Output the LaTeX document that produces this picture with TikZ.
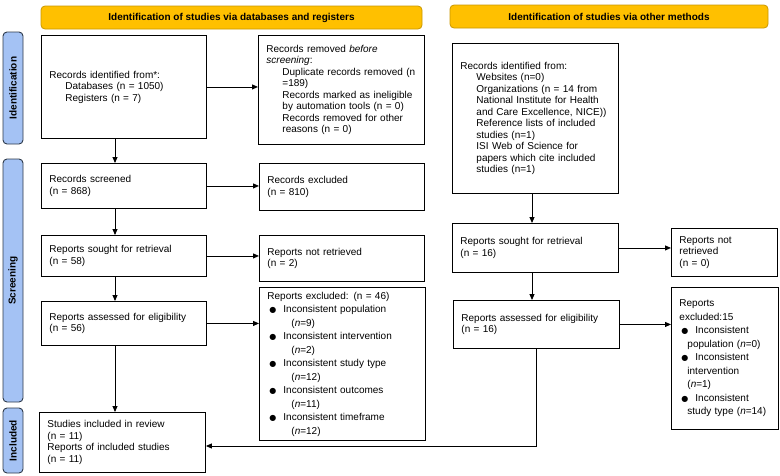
\documentclass[tikz,border=0pt]{standalone}
\usepackage{fontspec}
\setmainfont{Liberation Sans}
\newfontfamily\dejavu{DejaVu Sans}
\usetikzlibrary{arrows.meta,calc}
\definecolor{hdrfill}{HTML}{FFC000}
\definecolor{hdrdraw}{HTML}{C99700}
\definecolor{sidefill}{HTML}{A4C2F4}
\definecolor{sidedraw}{HTML}{2E3A4A}
\newcommand{\ind}{\hspace*{16pt}}
\newcommand{\blt}{\hspace*{2pt}\makebox[14pt][l]{\dejavu\fontsize{8}{8}\selectfont ●}}
\newcommand{\cnt}[1]{\hspace*{#1pt}}
\begin{document}
\begin{tikzpicture}[x=1pt,y=-1pt,
  box/.style={draw,line width=0.9pt,anchor=north west,align=left,inner xsep=8pt,inner ysep=2pt,font=\fontsize{10}{11.5}\selectfont},
  list/.style={box,font=\fontsize{10}{13.5}\selectfont},
  hdr/.style={draw=hdrdraw,fill=hdrfill,rounded corners=4pt,line width=0.8pt,font=\bfseries\fontsize{10}{12}\selectfont},
  sidebar/.style={draw=sidedraw,fill=sidefill,rounded corners=4pt,line width=0.9pt},
  sidelbl/.style={rotate=90,font=\bfseries\fontsize{10}{12}\selectfont},
  arr/.style={-{Triangle[length=6pt,width=5pt]},line width=0.9pt}]
  \useasboundingbox (0,0) rectangle (780,475);
  \node[hdr,minimum width=381pt,minimum height=23pt] (hdrL) at (231.5,17.5) {Identification of studies via databases and registers};
  \node[hdr,minimum width=318pt,minimum height=23pt] (hdrR) at (609,16.5) {Identification of studies via other methods};
  \draw[sidebar] (3,32) rectangle (23,144);
  \draw[sidebar] (3,159) rectangle (23,402);
  \draw[sidebar] (3,408) rectangle (23,473);
  \node[sidelbl] (lblId) at (13,88) {Identification};
  \node[sidelbl] (lblScr) at (13,280.5) {Screening};
  \node[sidelbl] (lblInc) at (13,440.5) {Included};
  \node[box,minimum width=165pt,minimum height=103pt,text width=149pt] (recId) at (41,35)
    {Records identified from*:\\\ind Databases (n = 1050)\\\ind Registers (n = 7)};
  \node[box,minimum width=166pt,minimum height=109pt,text width=150pt] (recRem) at (258,35)
    {Records removed \textit{before}\\\textit{screening}:\\\ind Duplicate records removed (n\\\ind =189)\\\ind Records marked as ineligible\\\ind by automation tools (n = 0)\\\ind Records removed for other\\\ind reasons (n = 0)};
  \node[box,minimum width=165pt,minimum height=45pt,text width=149pt] (recScr) at (41,163) {Records screened\\(n = 868)};
  \node[box,minimum width=165pt,minimum height=47pt,text width=149pt] (recExc) at (259,163) {Records excluded\\(n = 810)};
  \node[box,minimum width=165pt,minimum height=41pt,text width=149pt] (rptSgt) at (41,235) {Reports sought for retrieval\\(n = 58)};
  \node[box,minimum width=165pt,minimum height=46pt,text width=149pt] (rptNR) at (259,235) {Reports not retrieved\\(n = 2)};
  \node[box,minimum width=165pt,minimum height=44pt,text width=149pt] (rptAss) at (41,301) {Reports assessed for eligibility\\(n = 56)};
  \node[list,minimum width=166pt,minimum height=153pt,text width=150pt] (rptExc) at (259,287)
    {Reports excluded: (n = 46)\\
     \blt Inconsistent population\\\cnt{24}(\textit{n}=9)\\
     \blt Inconsistent intervention\\\cnt{24}(\textit{n}=2)\\
     \blt Inconsistent study type\\\cnt{24}(\textit{n}=12)\\
     \blt Inconsistent outcomes\\\cnt{24}(\textit{n}=11)\\
     \blt Inconsistent timeframe\\\cnt{24}(\textit{n}=12)};
  \node[box,minimum width=166pt,minimum height=60pt,text width=150pt] (stdInc) at (39,412)
    {Studies included in review\\(n = 11)\\Reports of included studies\\(n = 11)};
  \node[box,minimum width=166pt,minimum height=150pt,text width=150pt] (othId) at (452,43)
    {Records identified from:\\\ind Websites (n=0)\\\ind Organizations (n = 14 from\\\ind National Institute for Health\\\ind and Care Excellence, NICE))\\\ind Reference lists of included\\\ind studies (n=1)\\\ind ISI Web of Science for\\\ind papers which cite included\\\ind studies (n=1)\\[6pt]};
  \node[box,minimum width=166pt,minimum height=49pt,text width=150pt] (othSgt) at (452,223) {Reports sought for retrieval\\(n = 16)};
  \node[box,minimum width=106pt,minimum height=48pt,text width=90pt] (othNR) at (671,228) {Reports not\\retrieved\\(n = 0)};
  \node[box,minimum width=166pt,minimum height=48pt,text width=150pt] (othAss) at (453,300) {Reports assessed for eligibility\\(n = 16)};
  \node[list,minimum width=107pt,minimum height=142pt,text width=91pt] (othExc) at (671,287)
    {Reports\\excluded:15\\
     \blt Inconsistent\\\cnt{8}population (\textit{n}=0)\\
     \blt Inconsistent\\\cnt{8}intervention\\\cnt{8}(\textit{n}=1)\\
     \blt Inconsistent\\\cnt{8}study type (\textit{n}=14)};
  \coordinate (colL) at (115,0);
  \coordinate (colR) at (532,0);
  \coordinate (bend) at (536,446);
  \draw[arr] (recId) -- (recId -| recRem.west);
  \draw[arr] (recScr) -- (recScr -| recExc.west);
  \draw[arr] (rptSgt) -- (rptSgt -| rptNR.west);
  \draw[arr] (rptAss) -- (rptAss -| rptExc.west);
  \draw[arr] (recId.south -| colL) -- (recScr.north -| colL);
  \draw[arr] (recScr.south -| colL) -- (rptSgt.north -| colL);
  \draw[arr] (rptSgt.south -| colL) -- (rptAss.north -| colL);
  \draw[arr] (rptAss.south -| colL) -- (stdInc.north -| colL);
  \draw[arr] (othId.south -| colR) -- (othSgt.north -| colR);
  \draw[arr] (othSgt.south -| colR) -- (othAss.north -| colR);
  \draw[arr] (othSgt) -- (othSgt -| othNR.west);
  \draw[arr] (othAss) -- (othAss -| othExc.west);
  \draw[arr] (othAss.south -| bend) -- (bend) -- (bend -| stdInc.east);
\end{tikzpicture}
\end{document}
